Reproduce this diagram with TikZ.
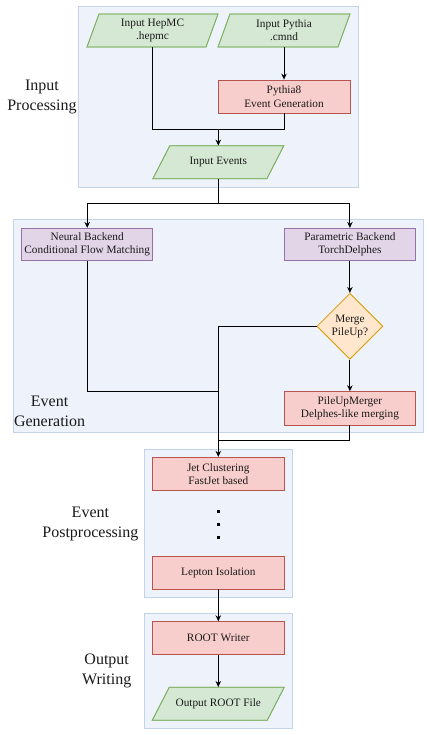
\documentclass[tikz,border=0pt]{standalone}
\usepackage{fontspec}
\setmainfont{Liberation Serif}
\usetikzlibrary{arrows.meta,shapes.geometric,calc}
\definecolor{grpfill}{HTML}{EDF2FB}
\definecolor{grpdraw}{HTML}{C3D3EA}
\definecolor{gfill}{HTML}{D5E8D4}
\definecolor{gdraw}{HTML}{82B366}
\definecolor{rfill}{HTML}{F8CECC}
\definecolor{rdraw}{HTML}{B85450}
\definecolor{pfill}{HTML}{E1D5E7}
\definecolor{pdraw}{HTML}{9673A6}
\definecolor{ofill}{HTML}{FFE6CC}
\definecolor{odraw}{HTML}{D79B00}
\definecolor{txt}{HTML}{1A1A1A}
\tikzset{
  grp/.style={fill=grpfill,draw=grpdraw,line width=0.9pt},
  boxtext/.style={font=\fontsize{11.3}{13.3}\selectfont,text=txt,align=center,inner sep=0pt},
  redbox/.style={boxtext,rectangle,fill=rfill,draw=rdraw,line width=0.8pt},
  purbox/.style={boxtext,rectangle,fill=pfill,draw=pdraw,line width=0.8pt},
  para/.style={boxtext,rectangle},
  parafill/.style={fill=gfill,draw=gdraw,line width=0.8pt},
  decision/.style={boxtext,diamond,fill=ofill,draw=odraw,line width=0.8pt,minimum width=66pt,minimum height=66pt,aspect=1},
  grplabel/.style={font=\fontsize{16}{20}\selectfont,align=center,text=txt,inner sep=0pt},
  conn/.style={line width=0.9pt,black},
  arr/.style={conn,-{Stealth[length=6pt,width=5.5pt]}},
  dotsq/.style={rectangle,fill=black,inner sep=0pt,minimum width=3pt,minimum height=3pt}
}
\begin{document}
\begin{tikzpicture}[x=1pt,y=-1pt]
\useasboundingbox (0,0) rectangle (430,735);
% groups
\fill[white] (0,0) rectangle (430,735);
\draw[grp] (78,6) rectangle (358,187);
\draw[grp] (13.3,219.3) rectangle (423.3,432.7);
\draw[grp] (144.3,449.3) rectangle (292.3,597.3);
\draw[grp] (144.3,613.3) rectangle (292.3,728.3);
% group labels
\node[grplabel] (lin) at (42,97) {Input\\Processing};
\node[grplabel] (lgen) at (49.6,411.2) {Event\\Generation};
\node[grplabel] (lpost) at (90.4,523.7) {Event\\Postprocessing};
\node[grplabel] (lout) at (106.7,671.2) {Output\\Writing};
% parallelograms: node + outline
\newcommand{\parashape}[3]{% name, half-width, skew
  \fill[parafill] ($(#1.center)+(-#2+#3/2,-16.5)$) -- ($(#1.center)+(#2+#3/2,-16.5)$) -- ($(#1.center)+(#2-#3/2,16.5)$) -- ($(#1.center)+(-#2-#3/2,16.5)$) -- cycle;
  \draw[parafill,fill=none] ($(#1.center)+(-#2+#3/2,-16.5)$) -- ($(#1.center)+(#2+#3/2,-16.5)$) -- ($(#1.center)+(#2-#3/2,16.5)$) -- ($(#1.center)+(-#2-#3/2,16.5)$) -- cycle;
}
\coordinate (chep) at (152.5,30.5);
\coordinate (cpyt) at (284,30.5);
\coordinate (cev) at (218.3,162.3);
\coordinate (cout) at (218.3,703.7);
\node[para,minimum width=119pt,minimum height=33pt] (hep) at (chep) {};
\node[para,minimum width=120pt,minimum height=33pt] (pyt) at (cpyt) {};
\node[para,minimum width=114pt,minimum height=33pt] (ev) at (cev) {};
\node[para,minimum width=115pt,minimum height=33pt] (outf) at (cout) {};
\parashape{hep}{59.5}{12}
\parashape{pyt}{60}{12}
\parashape{ev}{57}{17}
\parashape{outf}{57.5}{17}
\node[boxtext] (hept) at (chep) {Input HepMC\\.hepmc};
\node[boxtext] (pytt) at (cpyt) {Input Pythia\\.cmnd};
\node[boxtext] (evt) at (cev) {Input Events};
\node[boxtext] (outt) at (cout) {Output ROOT File};
% boxes
\node[redbox,minimum width=132pt,minimum height=33pt] (py8) at (284,96.5) {Pythia8\\Event Generation};
\node[purbox,minimum width=131pt,minimum height=32.4pt] (neural) at (87.2,244.5) {Neural Backend\\Conditional Flow Matching};
\node[purbox,minimum width=131.7pt,minimum height=32.4pt] (param) at (349.9,244.5) {Parametric Backend\\TorchDelphes};
\node[decision] (merge) at (349.9,326.3) {Merge\\PileUp?};
\node[redbox,minimum width=131.7pt,minimum height=33.3pt] (pum) at (349.9,408.3) {PileUpMerger\\Delphes-like merging};
\node[redbox,minimum width=132pt,minimum height=33.4pt] (jet) at (218.3,474) {Jet Clustering\\FastJet based};
\node[dotsq] (dot1) at (218.3,511) {};
\node[dotsq] (dot2) at (218.3,524.3) {};
\node[dotsq] (dot3) at (218.3,537.7) {};
\node[redbox,minimum width=132pt,minimum height=33pt] (lep) at (218.3,572.5) {Lepton Isolation};
\node[redbox,minimum width=132pt,minimum height=32.6pt] (rw) at (218.3,638) {ROOT Writer};
% connectors
\coordinate (j1) at (218.3,129.3);
\coordinate (j2) at (218.3,203.3);
\coordinate (j3) at (218.3,326.3);
\coordinate (j4) at (218.3,391.7);
\coordinate (j5) at (218.3,440.7);
\draw[conn] (hep.south) |- (j1);
\draw[conn] (py8.south) |- (j1);
\draw[arr] (j1) -- (ev.north);
\draw[arr] (pyt.south) -- (py8.north);
\draw[conn] (ev.south) -- (j2);
\draw[arr] (j2) -| (neural.north);
\draw[arr] (j2) -| (param.north);
\draw[arr] (param.south) -- (merge.north);
\draw[arr] (merge.south) -- (pum.north);
\draw[conn] (merge.west) -- (j3);
\draw[arr] (j3) -- (jet.north);
\draw[conn] (neural.south) |- (j4);
\draw[conn] (pum.south) |- (j5);
\draw[arr] (lep.south) -- (rw.north);
\draw[arr] (rw.south) -- (outf.north);
\end{tikzpicture}
\end{document}
